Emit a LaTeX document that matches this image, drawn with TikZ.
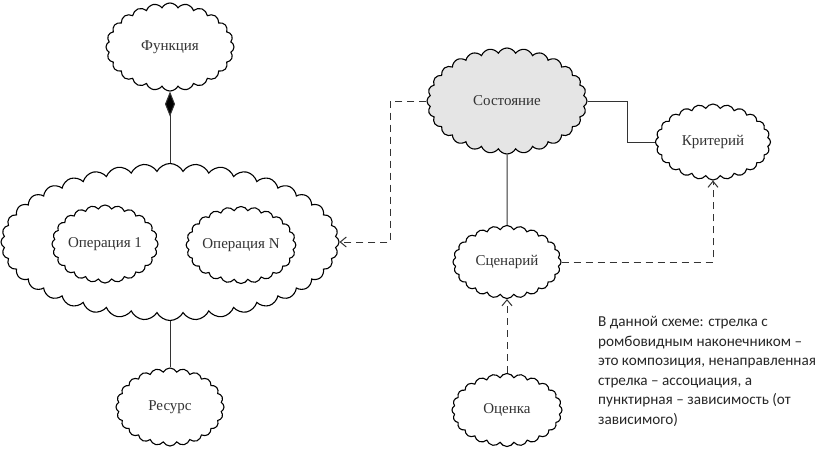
\documentclass[tikz,border=0pt]{standalone}
\usepackage{fontspec}
\setmainfont{Liberation Serif}
\newfontfamily\notefont{Carlito}
\usetikzlibrary{shapes.symbols,arrows.meta}
\begin{document}
\begin{tikzpicture}[x=1pt,y=-1pt,
  cl/.style={cloud, draw=black, line width=1.1pt, fill=white, cloud puffs=#1, cloud puff arc=125,
     cloud ignores aspect, inner sep=0pt, font=\fontsize{15}{17}\selectfont, text=black!80},
  cl/.default=24,
  assoc/.style={draw=black!80, line width=1pt},
  dep/.style={draw=black!80, line width=1pt, dash pattern=on 7pt off 5pt, -{Straight Barb[length=6pt,width=10pt]}}]
\useasboundingbox (0,0) rectangle (817,448);
\node[cl, minimum width=128pt, minimum height=88pt] (func) at (170,47) {Функция};
\node[cl=40, minimum width=338pt, minimum height=157pt] (big) at (170,242) {};
\node[cl, minimum width=106pt, minimum height=78pt] (op1) at (105,244) {Операция 1};
\node[cl, minimum width=108pt, minimum height=77pt] (opn) at (241,245) {Операция N};
\node[cl, minimum width=108pt, minimum height=78pt] (res) at (170,407) {Ресурс};
\node[cl=28, minimum width=160pt, minimum height=106pt, fill=black!10] (sost) at (507,101) {Состояние};
\node[cl, minimum width=115pt, minimum height=76pt] (krit) at (713,142) {Критерий};
\node[cl, minimum width=108pt, minimum height=73pt] (scen) at (507,262) {Сценарий};
\node[cl, minimum width=110pt, minimum height=73pt] (ocen) at (507,410) {Оценка};
\node[anchor=north west, align=left, inner sep=0pt, font=\notefont\fontsize{15.2}{19.6}\selectfont, text=black!85] (note) at (598,316)
  {В данной схеме: стрелка с\\ромбовидным наконечником –\\это композиция, ненаправленная\\стрелка – ассоциация, а\\пунктирная – зависимость (от\\зависимого)};
\draw[assoc, {Diamond[length=25pt,width=10pt,fill=black]}-] (func.south) -- (big.north);
\draw[assoc] (big.south) -- (res.north);
\draw[assoc] (sost.south) -- (scen.north);
\draw[assoc] (sost.east) -- ++(40,0) |- (krit.west);
\coordinate (d1) at (390,0);
\draw[dep] (sost.west) -- (sost.west -| d1) |- (big.east);
\draw[dep] (scen.east) -| (krit.south);
\draw[dep] (ocen.north) -- (scen.south);
\end{tikzpicture}
\end{document}
